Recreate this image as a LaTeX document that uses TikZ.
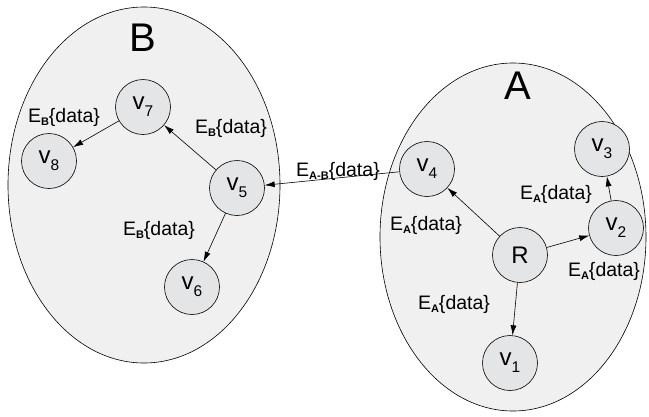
\documentclass[tikz,border=0pt]{standalone}
\usepackage{fontspec}
\setmainfont{Liberation Sans}
\usepackage{tikz}
\usetikzlibrary{positioning,arrows.meta,calc}
\definecolor{RegFill}{HTML}{F0F0F0}
\definecolor{VtxFill}{HTML}{E4E5E6}
\newcommand\vsub[1]{\raisebox{-7pt}{\fontsize{15.5}{16}\selectfont #1}}
\newcommand\esub[1]{\raisebox{-3.5pt}{\fontsize{11}{12}\selectfont\bfseries #1}}

\begin{document}
\begin{tikzpicture}[x=1pt,y=-1pt,
  every node/.style={font=\fontsize{19.5}{22}\selectfont},
  region/.style={draw=black,line width=0.6pt,fill=RegFill},
  vtx/.style={circle,draw=black,line width=0.6pt,fill=VtxFill,minimum size=55pt,inner sep=0pt,font=\fontsize{24}{27}\selectfont},
  big/.style={font=\fontsize{40}{44}\selectfont},
  edge/.style={-{Latex[length=10pt,width=6pt]},line width=0.6pt}]
  \useasboundingbox (0,0) rectangle (649,416);
  % the two regions
  \draw[region] (144,185) ellipse [x radius=136, y radius=178];
  \draw[region] (513,237) ellipse [x radius=133, y radius=174];
  \node[big] (labB) at (143,38) {B};
  \node[big] (labA) at (518,86) {A};
  % vertices
  \foreach \n/\lab/\x/\y in {v1/{v\vsub{1}}/510/363, v2/{v\vsub{2}}/616/228,
      v3/{v\vsub{3}}/602/149, v4/{v\vsub{4}}/427/169, v5/{v\vsub{5}}/237/188,
      v6/{v\vsub{6}}/192/287, v7/{v\vsub{7}}/143/107, v8/{v\vsub{8}}/49/161, R/R/520/255}{
    \node[vtx] (\n) at (\x,\y) {\lab};
  }
  % connectors
  \draw[edge] (R) -- (v1);
  \draw[edge] (R) -- (v2);
  \draw[edge] (v2) -- (v3);
  \draw[edge] (R) -- (v4);
  \draw[edge] (v4) -- (v5);
  \draw[edge] (v5) -- (v6);
  \draw[edge] (v5) -- (v7);
  \draw[edge] (v7) -- (v8);
  % edge labels
  \node (e78) at (64,117) {E\esub{B}\{data\}};
  \node (e57) at (231,128) {E\esub{B}\{data\}};
  \node (e56) at (159,230) {E\esub{B}\{data\}};
  \node (e45) at (338,171) {E\esub{A-B}\{data\}};
  \node (eR4) at (426,225) {E\esub{A}\{data\}};
  \node (e23) at (556,194) {E\esub{A}\{data\}};
  \node (eR2) at (604,271) {E\esub{A}\{data\}};
  \node (eR1) at (454,304) {E\esub{A}\{data\}};
\end{tikzpicture}
\end{document}
